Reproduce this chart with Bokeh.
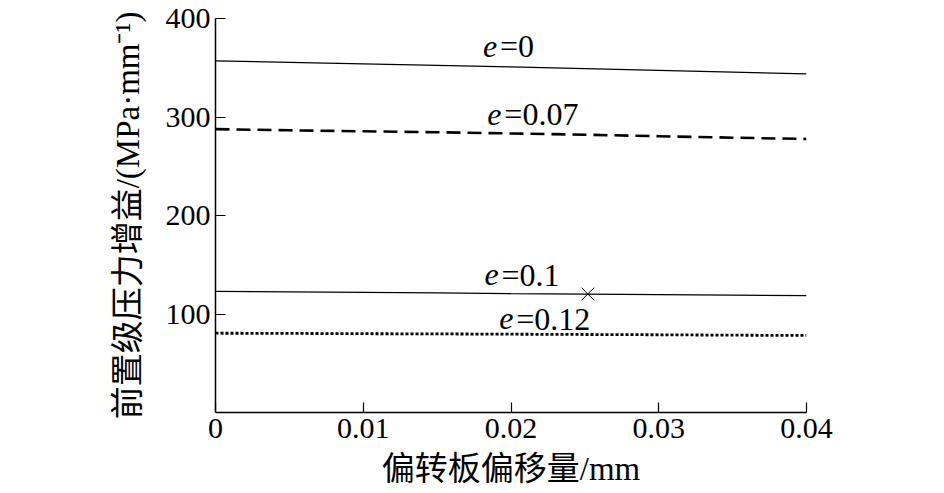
from bokeh.plotting import figure
from bokeh.models import FixedTicker, Range1d, ColumnDataSource
from bokeh.core.properties import value
from bokeh.embed import file_html
from bokeh.resources import INLINE

# ---- data ----
x_offset_mm = [0, 0.005, 0.01, 0.015, 0.02, 0.025, 0.03, 0.035, 0.04]
gain_e0 = [357, 355.5, 354, 352.5, 350.8, 349.2, 347.3, 345.5, 343.8]
gain_e007 = [287.7, 286.5, 285.5, 284.5, 283.3, 282, 280.5, 279, 277.7]
gain_e01 = [123, 122.5, 122, 121.4, 120.6, 120.2, 119.6, 119.1, 118.6]
gain_e012 = [80.5, 80.3, 80.0, 79.8, 79.5, 79.2, 78.9, 78.5, 78.2]

x_ticks = [0, 0.01, 0.02, 0.03, 0.04]
y_ticks = [100, 200, 300, 400]

label_rest = ["=0", "=0.07", "=0.1", "=0.12"]
label_x = [0.0181, 0.0184, 0.0182, 0.0192]
label_y = [372, 303, 140, 95]

marker_x = [0.0252]
marker_y = [120.3]

SERIF = "'Liberation Serif', 'Noto Sans CJK SC'"

p = figure(width=936, height=493, output_backend="svg", toolbar_location=None,
           x_range=Range1d(0, 0.04), y_range=Range1d(0, 400),
           min_border_left=215, min_border_right=130, min_border_top=18,
           min_border_bottom=81)
p.outline_line_color = None
p.xgrid.visible = False
p.ygrid.visible = False
p.background_fill_color = "white"
p.border_fill_color = "white"

for ax in (p.xaxis[0], p.yaxis[0]):
    ax.axis_line_color = "black"
    ax.axis_line_width = 1.5
    ax.major_tick_in = 10
    ax.major_tick_out = 0
    ax.major_tick_line_color = "black"
    ax.major_tick_line_width = 1.2
    ax.minor_tick_line_color = None
    ax.major_label_text_font = SERIF
    ax.major_label_text_font_size = "30px"
    ax.major_label_text_color = "black"
    ax.axis_label_text_font = SERIF
    ax.axis_label_text_font_size = "33px"
    ax.axis_label_text_font_style = "normal"
    ax.axis_label_text_color = "black"

p.xaxis.ticker = FixedTicker(ticks=x_ticks)
p.yaxis.ticker = FixedTicker(ticks=y_ticks)
p.xaxis.major_label_overrides = {0: "0", 0.01: "0.01", 0.02: "0.02", 0.03: "0.03", 0.04: "0.04"}
p.xaxis.major_label_standoff = 6
p.yaxis.major_label_standoff = 5
p.xaxis.axis_label = "偏转板偏移量/mm"
p.yaxis.axis_label = "前置级压力增益/(MPa·mm⁻¹)"
p.xaxis.axis_label_standoff = 10
p.yaxis.axis_label_standoff = 17

p.line(x_offset_mm, gain_e0, line_color="black", line_width=1.2)
p.line(x_offset_mm, gain_e007, line_color="black", line_width=2.6, line_dash="14 7")
p.line(x_offset_mm, gain_e01, line_color="black", line_width=1.2)
p.line(x_offset_mm, gain_e012, line_color="black", line_width=2.8, line_dash="3 2")

p.scatter(marker_x, marker_y, marker="x", size=18, line_color="black", line_width=1)

src = ColumnDataSource(dict(x=label_x, y=label_y, rest=label_rest, e=["e"] * 4))
p.text(x="x", y="y", text="e", source=src, text_font=value("Liberation Serif"),
       text_font_style="italic", text_font_size="32px", text_baseline="middle",
       text_align="left", text_color="black")
p.text(x="x", y="y", text="rest", source=src, x_offset=17, text_font=value("Liberation Serif"),
       text_font_size="32px", text_baseline="middle", text_align="left", text_color="black")

open("out.html", "w").write(file_html(p, INLINE))
